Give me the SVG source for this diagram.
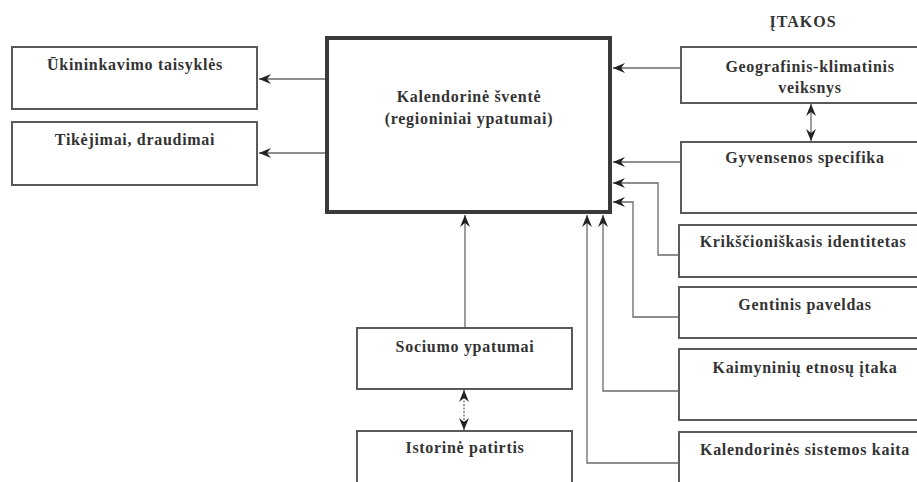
<svg xmlns="http://www.w3.org/2000/svg" width="917" height="482" viewBox="0 0 917 482">
<style>
  .box { fill: #ffffff; stroke: #5a5a5a; stroke-width: 2; }
  .main { fill: #ffffff; stroke: #3a3a3a; stroke-width: 4; }
  text { font-family: 'Liberation Serif', 'DejaVu Serif', serif; font-weight: bold; font-size: 16px; fill: #333333; text-anchor: middle; letter-spacing: 0.7px; }
  .conn { fill: none; stroke: #6a6a6a; stroke-width: 1.3; }
</style>
<defs>
  <marker id="arr" markerUnits="userSpaceOnUse" markerWidth="12" markerHeight="10" refX="12" refY="5" orient="auto-start-reverse">
    <path d="M0,0 L12,5 L0,10 L4,5 Z" fill="#222222"/>
  </marker>
</defs>
<rect width="917" height="482" fill="#ffffff"/>

<text x="803" y="27" style="letter-spacing:1px">ĮTAKOS</text>

<g id="n-main">
  <rect class="main" x="327" y="38" width="283" height="174"/>
  <text x="469" y="102">Kalendorinė šventė</text>
  <text x="469" y="124">(regioniniai ypatumai)</text>
</g>
<g id="n-ukininkavimo">
  <rect class="box" x="12" y="47" width="245" height="62"/>
  <text x="135" y="70">Ūkininkavimo taisyklės</text>
</g>
<g id="n-tikejimai">
  <rect class="box" x="12" y="122" width="245" height="63"/>
  <text x="135" y="145">Tikėjimai, draudimai</text>
</g>
<g id="n-geografinis">
  <rect class="box" x="681" y="47" width="250" height="56"/>
  <text x="810" y="72">Geografinis-klimatinis</text>
  <text x="810" y="93">veiksnys</text>
</g>
<g id="n-gyvensenos">
  <rect class="box" x="681" y="142" width="250" height="71"/>
  <text x="805" y="163">Gyvensenos specifika</text>
</g>
<g id="n-krikscioniskasis">
  <rect class="box" x="679" y="225" width="252" height="52"/>
  <text x="803" y="247">Krikščioniškasis identitetas</text>
</g>
<g id="n-gentinis">
  <rect class="box" x="679" y="287" width="252" height="51"/>
  <text x="805" y="310">Gentinis paveldas</text>
</g>
<g id="n-kaimyniniu">
  <rect class="box" x="679" y="349" width="252" height="71"/>
  <text x="805" y="373">Kaimyninių etnosų įtaka</text>
</g>
<g id="n-kalendorines">
  <rect class="box" x="679" y="432" width="252" height="70"/>
  <text x="805" y="455">Kalendorinės sistemos kaita</text>
</g>
<g id="n-sociumo">
  <rect class="box" x="357" y="328" width="215" height="61"/>
  <text x="465" y="352">Sociumo ypatumai</text>
</g>
<g id="n-istorine">
  <rect class="box" x="357" y="431" width="215" height="70"/>
  <text x="465" y="453">Istorinė patirtis</text>
</g>

<g id="connectors">
  <line class="conn" x1="325" y1="79" x2="259" y2="79" marker-end="url(#arr)"/>
  <line class="conn" x1="325" y1="153" x2="259" y2="153" marker-end="url(#arr)"/>
  <line class="conn" x1="680" y1="68" x2="613" y2="68" marker-end="url(#arr)"/>
  <line class="conn" x1="811" y1="104" x2="811" y2="141" marker-start="url(#arr)" marker-end="url(#arr)"/>
  <line class="conn" x1="680" y1="162" x2="613" y2="162" marker-end="url(#arr)"/>
  <polyline class="conn" points="679,255 658,255 658,183 613,183" marker-end="url(#arr)"/>
  <polyline class="conn" points="679,317 633,317 633,202 613,202" marker-end="url(#arr)"/>
  <polyline class="conn" points="679,391 603,391 603,215" marker-end="url(#arr)"/>
  <polyline class="conn" points="679,463 587,463 587,215" marker-end="url(#arr)"/>
  <line class="conn" x1="465" y1="327" x2="465" y2="215" marker-end="url(#arr)"/>
  <line class="conn" x1="464" y1="390" x2="464" y2="430" stroke-dasharray="2,1.5" marker-start="url(#arr)" marker-end="url(#arr)"/>
</g>
</svg>
